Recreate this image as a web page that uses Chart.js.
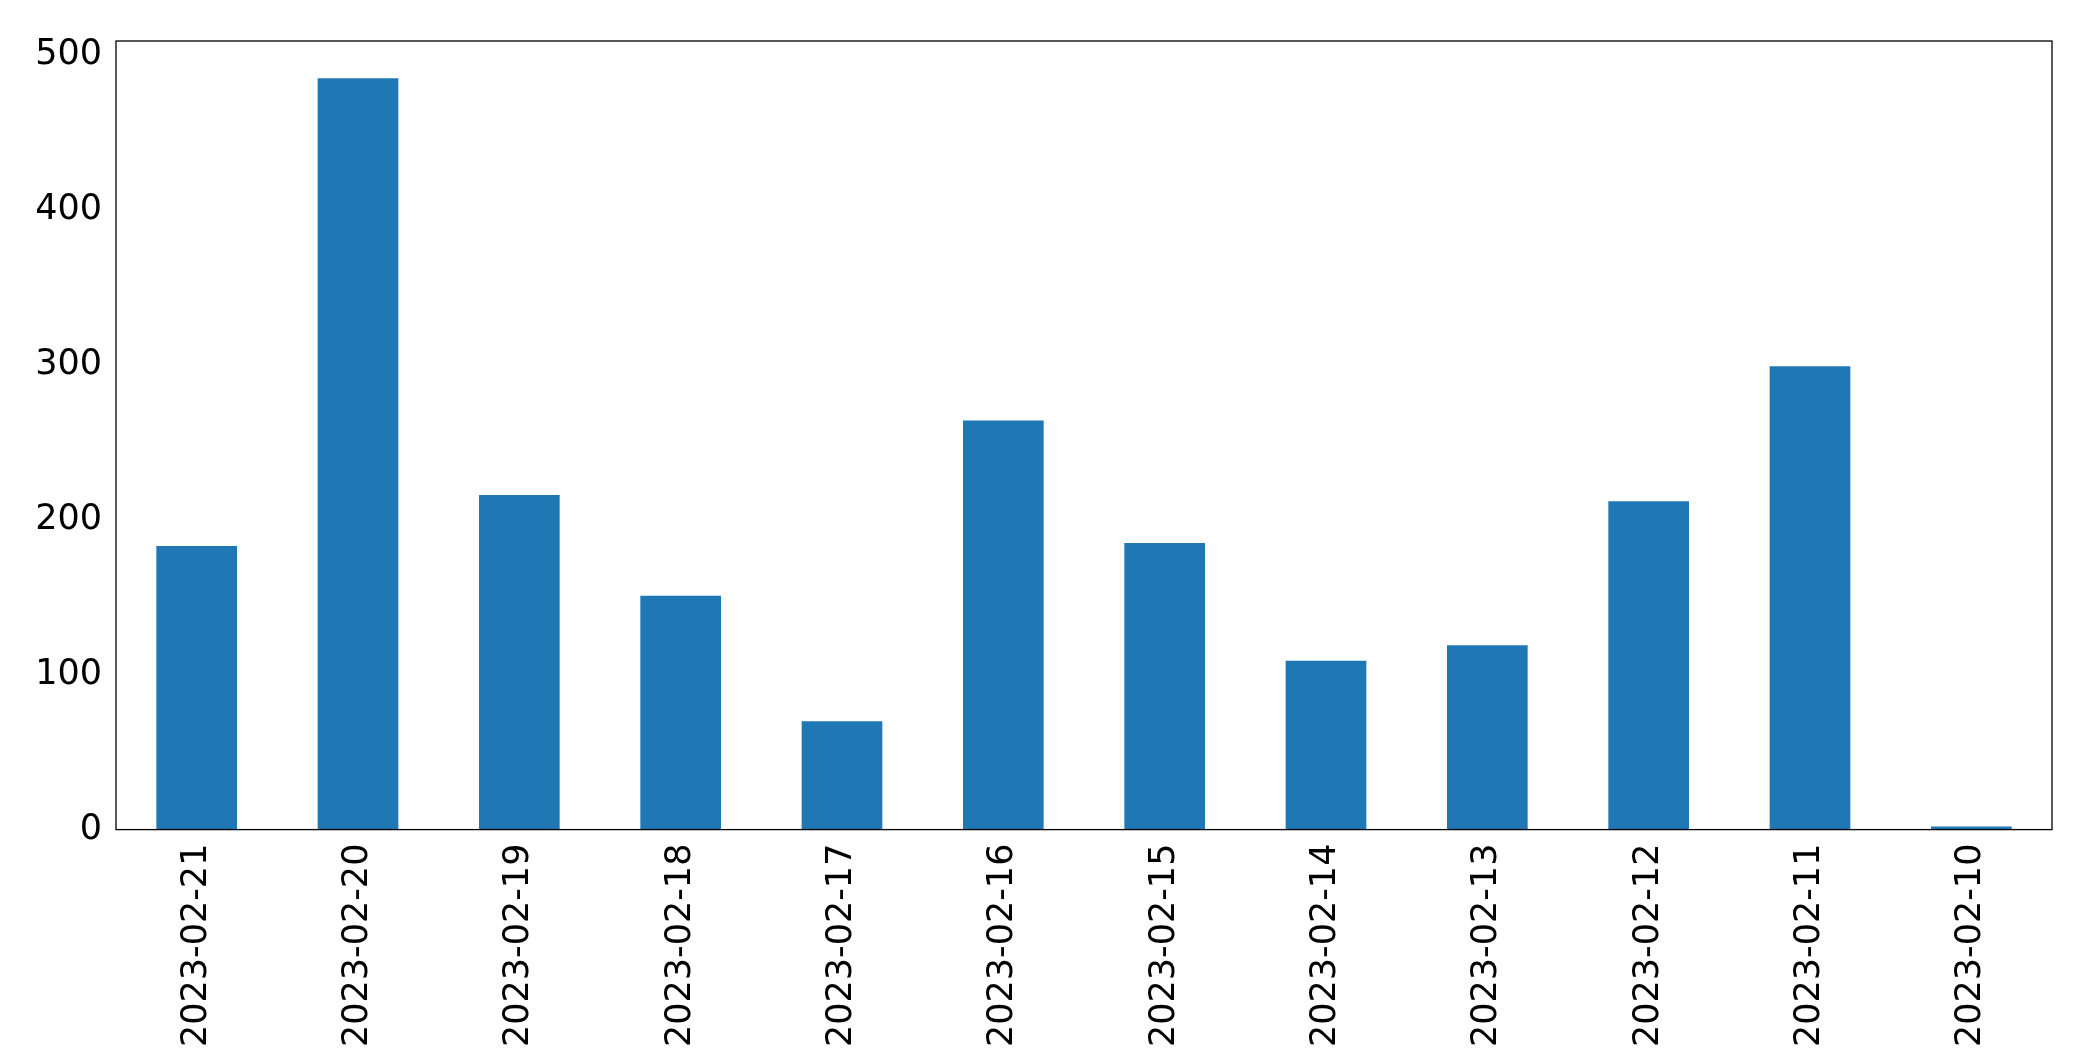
<!DOCTYPE html>
<html>
<head>
<meta charset="utf-8">
<script src="https://cdn.jsdelivr.net/npm/chart.js@4"></script>
<style>
html, body { margin: 0; padding: 0; background: #fff; }
#wrap { width: 2093px; height: 1063px; }
</style>
</head>
<body>
<div id="wrap"><canvas id="bar_chart"></canvas></div>
<script>
var dates = ['2023-02-21', '2023-02-20', '2023-02-19', '2023-02-18', '2023-02-17', '2023-02-16',
	'2023-02-15', '2023-02-14', '2023-02-13', '2023-02-12', '2023-02-11', '2023-02-10'];
var counts = [183, 485, 216, 151, 70, 264, 185, 109, 119, 212, 299, 2];
var yTicks = [0, 100, 200, 300, 400, 500];

// box around the plot area, like matplotlib spines
var frame = {
	id: 'frame',
	afterDraw: function(c) {
		var a = c.chartArea;
		var g = c.ctx;
		g.save();
		g.strokeStyle = '#000';
		g.lineWidth = 1.3;
		g.strokeRect(a.left, a.top, a.right - a.left, a.bottom - a.top);
		g.restore();
	}
};

var ctx = document.getElementById('bar_chart').getContext('2d');
var chart = new Chart(ctx, {
	type: 'bar',
	data: {
		labels: dates,
		datasets: [{
			data: counts,
			backgroundColor: '#1f77b4',
			barPercentage: 0.5,
			categoryPercentage: 1.0
		}]
	},
	options: {
		responsive: true,
		maintainAspectRatio: false,
		animation: false,
		layout: { padding: { top: 41, right: 41, left: 0, bottom: 10 } },
		plugins: { legend: { display: false }, tooltip: { enabled: false } },
		scales: {
			x: {
				grid: { display: false, drawTicks: true, tickLength: 8, tickColor: '#000' },
				border: { display: false },
				ticks: {
					color: '#000',
					font: { family: 'DejaVu Sans', size: 35 },
					maxRotation: 90, minRotation: 90,
					padding: 6
				}
			},
			y: {
				min: 0, max: 509,
				afterBuildTicks: function(s) {
					s.ticks = yTicks.map(function(v) { return { value: v }; });
				},
				afterFit: function(s) { s.width = 116; },
				grid: { display: false, drawTicks: true, tickLength: 8, tickColor: '#000' },
				border: { display: false },
				ticks: {
					color: '#000',
					font: { family: 'DejaVu Sans', size: 35 },
					padding: 6
				}
			}
		}
	},
	plugins: [frame]
});
</script>
</body>
</html>
